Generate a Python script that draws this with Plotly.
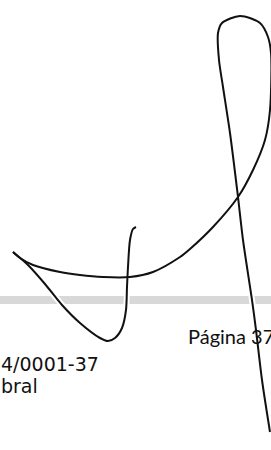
import plotly.graph_objects as go

# Signature strokes (page pixel coordinates)
stroke_a_x = [136, 133, 130, 128, 127, 126, 122, 115, 108, 100, 80, 62, 45, 28, 13]
stroke_a_y = [227, 229, 240, 267, 287, 310, 328, 338, 341, 338, 323, 305, 284, 265, 252]

stroke_b_x = [13, 20, 33, 60, 80, 103, 130, 153, 180, 190, 213, 238, 253, 265, 270, 271, 268, 260, 240, 222, 218, 219, 223, 230, 238, 243, 252, 256, 262, 270]
stroke_b_y = [252, 258, 265, 272, 275, 277, 277, 272, 257, 249, 227, 197, 170, 140, 110, 53, 37, 23, 16, 23, 33, 60, 87, 133, 197, 240, 300, 330, 380, 432]

# Gray scan band (footer rule)
band_x = [0, 271]
band_y = [300, 300]

# Footer texts
footer_texts = ["Página 37", "4/0001-37", "bral"]
footer_x = [187, 0, 0]
footer_y = [336, 364, 386]

fig = go.Figure()

fig.add_trace(go.Scatter(x=band_x, y=band_y, mode="lines",
                         line=dict(color="#d8d8d8", width=8),
                         hoverinfo="skip", showlegend=False))

# white halo under strokes (gaps in band)
for sx, sy in [(stroke_a_x, stroke_a_y), (stroke_b_x, stroke_b_y)]:
    fig.add_trace(go.Scatter(x=sx, y=sy, mode="lines",
                             line=dict(color="white", width=6, shape="spline", smoothing=0.8),
                             hoverinfo="skip", showlegend=False))
for sx, sy in [(stroke_a_x, stroke_a_y), (stroke_b_x, stroke_b_y)]:
    fig.add_trace(go.Scatter(x=sx, y=sy, mode="lines",
                             line=dict(color="#111111", width=2, shape="spline", smoothing=0.8),
                             hoverinfo="skip", showlegend=False))

fonts = [dict(family="Lato", size=20, color="#111111"),
         dict(family="DejaVu Sans", size=19, color="#111111"),
         dict(family="DejaVu Sans", size=19, color="#111111")]
for t, x, y, f in zip(footer_texts, footer_x, footer_y, fonts):
    fig.add_annotation(text=t, x=x, y=y, xref="x", yref="y",
                       xanchor="left", yanchor="middle", showarrow=False,
                       font=f, borderpad=0)

fig.update_layout(
    width=271, height=450,
    margin=dict(l=0, r=0, t=0, b=0),
    paper_bgcolor="white", plot_bgcolor="white",
    xaxis=dict(range=[0, 271], visible=False, fixedrange=True),
    yaxis=dict(range=[450, 0], visible=False, fixedrange=True),
)

fig.write_html(
    "out.html",
    config={"displayModeBar": False},
    post_script="document.body.style.margin='0';document.body.style.overflow='hidden';",
)
